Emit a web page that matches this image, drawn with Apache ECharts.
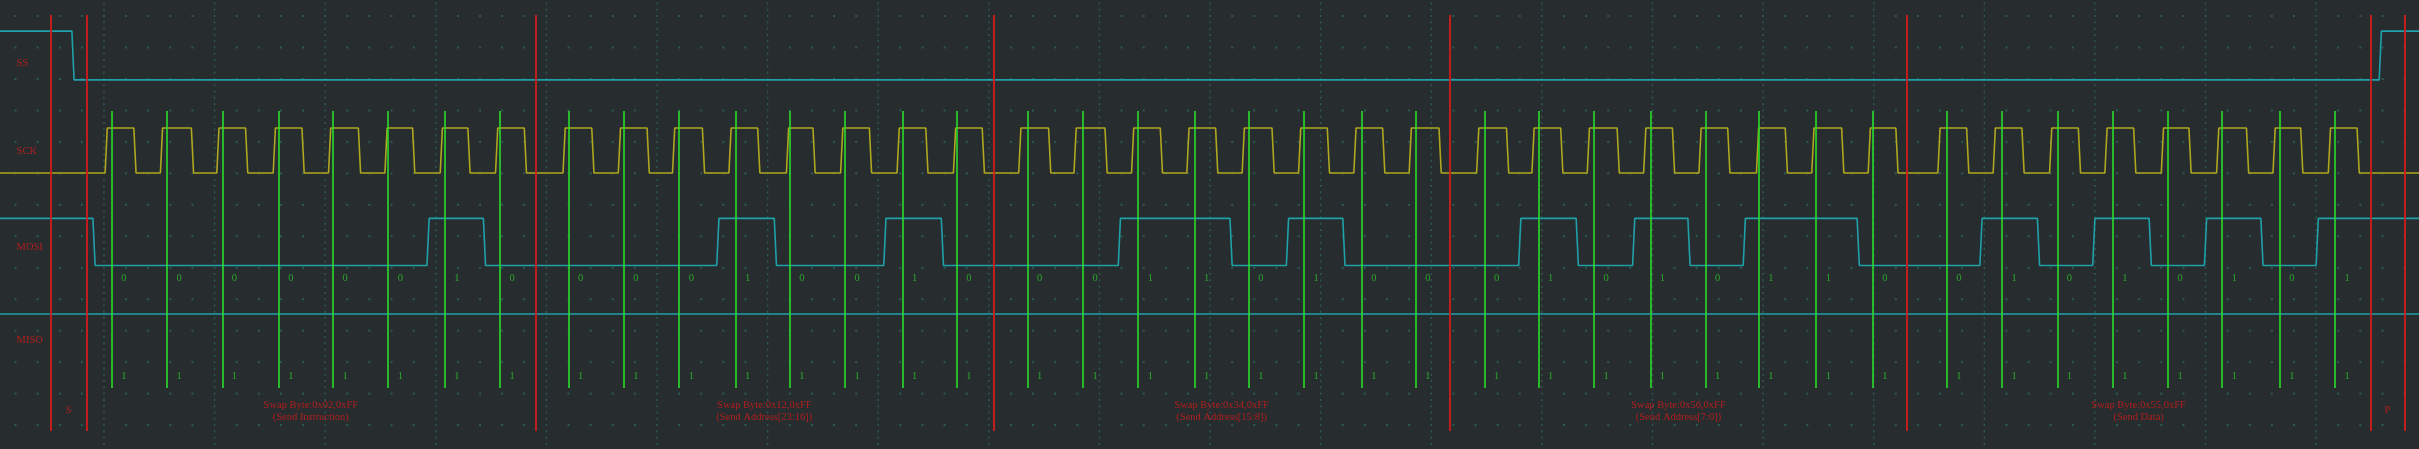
<!DOCTYPE html>
<html><head><meta charset="utf-8">
<script src="https://cdn.jsdelivr.net/npm/echarts@6/dist/echarts.min.js"></script>
<style>html,body{margin:0;padding:0;background:#272c2e;overflow:hidden}#c{width:2419px;height:449px}</style>
</head><body><div id="c"></div>
<script>
// ---------------- DATA (time in horizontal divisions, rows in vertical divisions) ----------------
const channelNames = ['SS', 'SCK', 'MOSI', 'MISO'];
const byteValues = ['0x02', '0x12', '0x34', '0x56', '0x55'];
const byteReplies = ['0xFF', '0xFF', '0xFF', '0xFF', '0xFF'];
const byteNotes = ['(Send Instruction)', '(Send Address[23:16])', '(Send Address[15:8])', '(Send Address[7:0])', '(Send Data)'];
const frameMarks = ['S', 'P'];

const mosiBits = [0,0,0,0,0,0,1,0, 0,0,0,1,0,0,1,0, 0,0,1,1,0,1,0,0, 0,1,0,1,0,1,1,0, 0,1,0,1,0,1,0,1];
const misoBits = [1,1,1,1,1,1,1,1, 1,1,1,1,1,1,1,1, 1,1,1,1,1,1,1,1, 1,1,1,1,1,1,1,1, 1,1,1,1,1,1,1,1];

// sampling instants (green cursors)
const sampleTimes = [0.07,0.57,1.07,1.58,2.07,2.57,3.08,3.58, 4.20,4.70,5.20,5.71,6.20,6.70,7.22,7.71,
  8.35,8.85,9.35,9.86,10.35,10.85,11.37,11.86, 12.48,12.97,13.47,13.98,14.48,14.96,15.48,15.99,
  16.66,17.16,17.66,18.16,18.66,19.15,19.67,20.17];
// SCK rising / falling edges
const sckRise = [0.01,0.51,1.02,1.53,2.03,2.54,3.04,3.54, 4.15,4.65,5.14,5.65,6.17,6.66,7.17,7.68,
  8.27,8.77,9.29,9.79,10.29,10.80,11.30,11.80, 12.41,12.91,13.41,13.92,14.42,14.94,15.44,15.95,
  16.58,17.08,17.59,18.09,18.60,19.10,19.61,20.11];
const sckFall = [0.27,0.79,1.28,1.79,2.30,2.79,3.29,3.80, 4.41,4.91,5.41,5.91,6.41,6.92,7.43,7.94,
  8.54,9.05,9.55,10.05,10.56,11.06,11.56,12.07, 12.68,13.17,13.68,14.18,14.68,15.20,15.71,16.20,
  16.84,17.34,17.85,18.35,18.85,19.37,19.86,20.37];
// MOSI level toggles (starts high)
const mosiEdges = [-0.10, 2.92,3.43, 5.54,6.06, 7.05,7.57, 9.17,10.18, 10.69,11.20, 12.79,13.31,
  13.82,14.32, 14.82,15.85, 16.96,17.48, 17.98,18.49, 18.99,19.50, 20.00];
// SS level toggles (starts high)
const ssEdges = [-0.29, 20.57];
// red cursors: S pair, byte boundaries, P pair
const markerTimes = [-0.48, -0.16, 3.90, 8.04, 12.17, 16.30, 20.49, 20.80];

// ---------------- LAYOUT ----------------
const X_MIN = -0.94, X_MAX = 20.93, Y_MIN = -0.51, Y_MAX = 13.76;
const EDGE = 0.02;
const rows = { SS: [2.03, 0.48], SCK: [4.99, 3.56], MOSI: [7.93, 6.43], MISO: [9.47, 9.47] }; // [low, high]
const labelRows = { SS: 1.49, SCK: 4.29, MOSI: 7.34, MISO: 10.30 };
const LABEL_X = -0.79;
const CURSOR_G = [3.02, 11.82], CURSOR_R = [-0.03, 13.19];
const BIT_DX = 0.11, MOSI_TXT = 8.33, MISO_TXT = 11.44, NOTE_ROW = 12.56;

function lv(ch, v) { const r = rows[ch]; return r[0] + (r[1] - r[0]) * v; }
function toggled(ch, edges, start) {
  let l = start; const pts = [[X_MIN, lv(ch, l)]];
  edges.forEach(e => { pts.push([e, lv(ch, l)]); l = 1 - l; pts.push([e + EDGE, lv(ch, l)]); });
  pts.push([X_MAX, lv(ch, l)]); return pts;
}
const sckPts = [[X_MIN, lv('SCK', 0)]];
sckRise.forEach((r, i) => { sckPts.push([r, lv('SCK', 0)], [r + EDGE, lv('SCK', 1)], [sckFall[i], lv('SCK', 1)], [sckFall[i] + EDGE, lv('SCK', 0)]); });
sckPts.push([X_MAX, lv('SCK', 0)]);

// oscilloscope dotted graticule
const vDots = [], hDots = [];
for (let k = 0; k <= 20; k++) for (let j = -2; j <= 68; j++) vDots.push([k, j * 0.2]);
for (let r = 0; r <= 13; r++) for (let i = -4; i <= 104; i++) if (i % 5 !== 0) hDots.push([i * 0.2, r]);

const txt = (color, extra) => Object.assign({ show: true, position: 'inside', color, fontFamily: 'Liberation Serif', fontSize: 10.5, formatter: p => p.data[2] }, extra || {});
const textSeries = (data, label) => ({ type: 'scatter', data, symbolSize: 1, itemStyle: { color: 'rgba(0,0,0,0)' }, label, silent: true, z: 10 });

const notes = byteValues.map((b, i) => [(markerTimes[i + 1] + markerTimes[i + 2]) / 2, NOTE_ROW, 'Swap Byte:' + b + ',' + byteReplies[i] + '\n' + byteNotes[i]]);

const chart = echarts.init(document.getElementById('c'), null, { renderer: 'canvas' });
chart.setOption({
  backgroundColor: '#272c2e',
  animation: false,
  grid: { left: 0, right: 0, top: 0, bottom: 0 },
  xAxis: { type: 'value', min: X_MIN, max: X_MAX, show: false },
  yAxis: { type: 'value', min: Y_MIN, max: Y_MAX, inverse: true, show: false },
  series: [
    { type: 'scatter', data: vDots, symbol: 'rect', symbolSize: [1.4, 2], itemStyle: { color: '#2f6662' }, silent: true, z: 1 },
    { type: 'scatter', data: hDots, symbol: 'rect', symbolSize: [2, 2], itemStyle: { color: '#2f6662' }, silent: true, z: 1 },
    { type: 'line', data: toggled('SS', ssEdges, 1), showSymbol: false, lineStyle: { color: '#1fa1a9', width: 1.6 }, silent: true, z: 3 },
    { type: 'line', data: sckPts, showSymbol: false, lineStyle: { color: '#aea71f', width: 1.6 }, silent: true, z: 3 },
    { type: 'line', data: toggled('MOSI', mosiEdges, 1), showSymbol: false, lineStyle: { color: '#1fa1a9', width: 1.6 }, silent: true, z: 3 },
    { type: 'line', data: [[X_MIN, lv('MISO', 0)], [X_MAX, lv('MISO', 0)]], showSymbol: false, lineStyle: { color: '#1fa1a9', width: 1.6 }, silent: true, z: 3 },
    { type: 'lines', coordinateSystem: 'cartesian2d', data: sampleTimes.map(t => ({ coords: [[t, CURSOR_G[0]], [t, CURSOR_G[1]]] })), lineStyle: { color: '#2bdc2b', width: 1.6, opacity: 1 }, silent: true, z: 5 },
    { type: 'lines', coordinateSystem: 'cartesian2d', data: markerTimes.map(t => ({ coords: [[t, CURSOR_R[0]], [t, CURSOR_R[1]]] })), lineStyle: { color: '#d21c1c', width: 1.8, opacity: 1 }, silent: true, z: 6 },
    textSeries(channelNames.map(n => [LABEL_X, labelRows[n], n]), txt('#d41c1c', { align: 'left' })),
    textSeries(mosiBits.map((b, i) => [sampleTimes[i] + BIT_DX, MOSI_TXT, String(b)]), txt('#2cc42c')),
    textSeries(misoBits.map((b, i) => [sampleTimes[i] + BIT_DX, MISO_TXT, String(b)]), txt('#2cc42c')),
    textSeries(notes, txt('#d41c1c', { lineHeight: 12, align: 'center' })),
    textSeries([[(markerTimes[0] + markerTimes[1]) / 2, 12.52, frameMarks[0]], [(markerTimes[6] + markerTimes[7]) / 2, 12.52, frameMarks[1]]], txt('#d41c1c'))
  ]
});
</script></body></html>
